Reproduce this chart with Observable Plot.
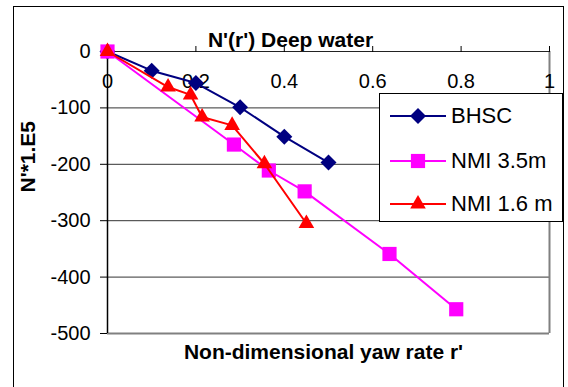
<!DOCTYPE html>
<html>
<head>
<meta charset="utf-8">
<script src="https://cdn.jsdelivr.net/npm/d3@7"></script>
<script src="https://cdn.jsdelivr.net/npm/@observablehq/plot@0.6"></script>
<style>
  html, body { margin: 0; padding: 0; background: #fff; }
  body { width: 568px; height: 387px; position: relative; overflow: hidden; font-family: "Liberation Sans", Arial, sans-serif; }
  #chart { position: absolute; left: 0; top: 0; }
  #outer { position: absolute; left: 13px; top: 6px; width: 549px; height: 380px; border: 1px solid #000; pointer-events: none; }
  #legend { position: absolute; left: 379px; top: 93px; width: 184px; height: 129px; border: 1px solid #000; background: #fff; box-sizing: border-box; }
  .row { position: absolute; left: 0; height: 30px; display: flex; align-items: center; }
  .row svg { margin-left: 10px; }
  .row span { font-size: 22px; margin-left: 5px; color: #000; }
</style>
</head>
<body>
<div id="outer"></div>
<div id="chart"></div>
<div id="legend"></div>
<script>
// ---- data ----
const bhscR = [0, 0.1, 0.2, 0.3, 0.4, 0.5];
const bhscN = [0, -34, -56, -99, -151, -197];
const nmi35R = [0, 0.286, 0.365, 0.446, 0.638, 0.789];
const nmi35N = [0, -165, -211, -248, -359, -457];
const nmi16R = [0, 0.137, 0.188, 0.214, 0.282, 0.355, 0.450];
const nmi16N = [0, -63, -77, -116, -131, -199, -305];
const seriesNames = ["BHSC", "NMI 3.5m", "NMI 1.6 m"];
const seriesColors = ["#000080", "#FF00FF", "#FF0000"];
const seriesSymbols = ["diamond2", "square", "triangle"];
const seriesR = [7.2, 8, 5.8];
const xTicks = [0, 0.2, 0.4, 0.6, 0.8, 1];
const xTickLabels = ["0", "0.2", "0.4", "0.6", "0.8", "1"];
const yTicks = [0, -100, -200, -300, -400, -500];
const gridY = [-100, -200, -300, -400];
const title = "N'(r') Deep water";
const xTitle = "Non-dimensional yaw rate r'";
const yTitle = "N'*1.E5";

const toRows = (rs, ns, s) => rs.map((r, i) => ({r, n: ns[i], s}));
const series = [
  toRows(bhscR, bhscN, 0),
  toRows(nmi35R, nmi35N, 1),
  toRows(nmi16R, nmi16N, 2)
];
const xLabelRows = xTicks.map((t, i) => ({t, label: xTickLabels[i]}));

const seriesMarks = series.flatMap((rows, k) => [
  Plot.line(rows, {x: "r", y: "n", stroke: seriesColors[k], strokeWidth: 2}),
  Plot.dot(rows, {x: "r", y: "n", symbol: seriesSymbols[k], fill: seriesColors[k], stroke: "none", r: seriesR[k]})
]);

const chart = Plot.plot({
  width: 568,
  height: 387,
  marginLeft: 107,
  marginRight: 19,
  marginTop: 51,
  marginBottom: 54,
  style: {fontFamily: "'Liberation Sans', Arial, sans-serif", fontSize: "20px", color: "#000", background: "transparent", overflow: "visible"},
  x: {domain: [0, 1]},
  y: {domain: [-500, 0]},
  marks: [
    Plot.ruleY(gridY, {stroke: "#333", strokeWidth: 1}),
    Plot.ruleY([-500], {stroke: "#808080", strokeWidth: 2}),
    Plot.ruleX([1], {stroke: "#808080", strokeWidth: 2}),
    Plot.ruleX([0], {stroke: "#000", strokeWidth: 1.5}),
    Plot.ruleY([0], {stroke: "#222", strokeWidth: 1}),
    Plot.axisX({anchor: "top", ticks: xTicks, tickSize: 6, tickFormat: () => "", label: null, stroke: "#000"}),
    Plot.text(xLabelRows, {x: "t", y: () => 0, text: "label", dy: 30, fontSize: 20}),
    Plot.axisY({anchor: "left", ticks: yTicks, tickSize: 7, tickPadding: 10, tickFormat: d => String(d), label: null, fontSize: 20}),
    ...seriesMarks,
    Plot.text([title], {frameAnchor: "top", dx: -38, dy: -19, fontWeight: "bold", fontSize: 21}),
    Plot.text([xTitle], {frameAnchor: "bottom", dx: -5, dy: 25, fontWeight: "bold", fontSize: 21}),
    Plot.text([yTitle], {frameAnchor: "left", dx: -79, rotate: -90, fontWeight: "bold", fontSize: 21})
  ]
});
document.getElementById("chart").appendChild(chart);

// ---- legend ----
const legend = document.getElementById("legend");
const rowTops = [7, 52, 95];
seriesNames.forEach((name, k) => {
  const row = document.createElement("div");
  row.className = "row";
  row.style.top = rowTops[k] + "px";
  const sym = d3.symbol(d3["symbol" + (k === 0 ? "Diamond2" : k === 1 ? "Square" : "Triangle")], Math.PI * seriesR[k] * seriesR[k])();
  row.innerHTML = `<svg width="56" height="30" viewBox="0 0 56 30"><line x1="0" x2="56" y1="15" y2="15" stroke="${seriesColors[k]}" stroke-width="2"/><path d="${sym}" transform="translate(28,15)" fill="${seriesColors[k]}"/></svg><span>${name}</span>`;
  legend.appendChild(row);
});
</script>
</body>
</html>
